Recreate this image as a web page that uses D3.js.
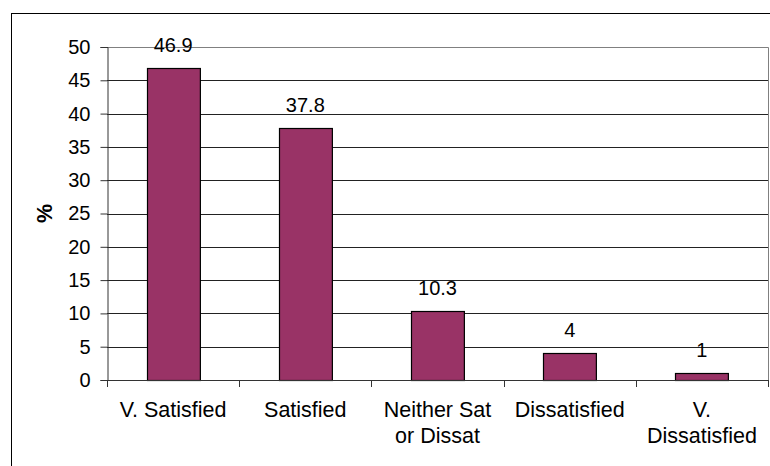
<!DOCTYPE html>
<html>
<head>
<meta charset="utf-8">
<script src="https://cdn.jsdelivr.net/npm/d3@7"></script>
<style>
  html, body { margin: 0; padding: 0; background: #fff; }
  svg { display: block; }
  text { font-family: "Liberation Sans", Arial, sans-serif; fill: #000; }
</style>
</head>
<body>
<svg id="chart" width="770" height="466"></svg>
<script>
// Satisfaction survey results (%)
const categories = ["V. Satisfied", "Satisfied", "Neither Sat or Dissat", "Dissatisfied", "V. Dissatisfied"];
const values = [46.9, 37.8, 10.3, 4, 1];
const yTicks = [0, 5, 10, 15, 20, 25, 30, 35, 40, 45, 50];
const yLabel = "%";

const svg = d3.select("#chart");
const W = 770, H = 466;
const plot = { left: 107, top: 47, right: 768, bottom: 380 };
const numSize = 20;
const catSize = 21.5;

// Outer chart frame (runs off the right and bottom edges)
svg.append("rect")
  .attr("x", 11.5).attr("y", 13.5)
  .attr("width", W + 10).attr("height", H + 10)
  .attr("fill", "#fff").attr("stroke", "#000").attr("stroke-width", 1);

const x = d3.scaleBand()
  .domain(categories)
  .range([plot.left, plot.right])
  .paddingInner(0.6).paddingOuter(0.3);

const xOuter = d3.scaleBand()
  .domain(categories)
  .range([plot.left, plot.right]);

const y = d3.scaleLinear().domain([0, 50]).range([plot.bottom, plot.top]);

// Horizontal gridlines
svg.append("g")
  .selectAll("line")
  .data(yTicks.filter(t => t > 0 && t < 50))
  .join("line")
  .attr("x1", plot.left).attr("x2", plot.right)
  .attr("y1", d => Math.round(y(d)) + 0.5).attr("y2", d => Math.round(y(d)) + 0.5)
  .attr("stroke", "#222").attr("stroke-width", 1);

// Plot area border (top and right)
svg.append("path")
  .attr("d", `M${plot.left},${plot.top + 0.5}H${plot.right + 0.5}V${plot.bottom}`)
  .attr("fill", "none").attr("stroke", "#808080").attr("stroke-width", 1);

// Bars
svg.append("g")
  .selectAll("rect")
  .data(values)
  .join("rect")
  .attr("x", (d, i) => Math.round(x(categories[i])) + 0.5)
  .attr("y", d => Math.round(y(d)) + 0.5)
  .attr("width", x.bandwidth())
  .attr("height", d => y(0) - Math.round(y(d)))
  .attr("fill", "#993366")
  .attr("stroke", "#000").attr("stroke-width", 1.2);

// Value labels
svg.append("g")
  .selectAll("text")
  .data(values)
  .join("text")
  .attr("x", (d, i) => x(categories[i]) + x.bandwidth() / 2)
  .attr("y", d => y(d) - 16)
  .attr("text-anchor", "middle")
  .attr("font-size", numSize)
  .text(d => d);

// Y axis
const yAxis = d3.axisLeft(y).tickValues(yTicks).tickSize(7).tickPadding(10);
const gy = svg.append("g")
  .attr("transform", `translate(${plot.left + 0.5},0)`)
  .call(yAxis);
gy.select(".domain").attr("stroke", "#333");
gy.selectAll(".tick line").attr("stroke", "#333");
gy.selectAll(".tick text")
  .attr("font-size", numSize)
  .attr("font-family", "'Liberation Sans', Arial, sans-serif")
  .attr("fill", "#000");

// X axis with ticks at category boundaries
const gx = svg.append("g");
gx.append("line")
  .attr("x1", plot.left).attr("x2", plot.right)
  .attr("y1", plot.bottom + 0.5).attr("y2", plot.bottom + 0.5)
  .attr("stroke", "#333");
const bounds = categories.map(c => xOuter(c)).concat([plot.right]);
gx.selectAll("line.tk")
  .data(bounds)
  .join("line")
  .attr("class", "tk")
  .attr("x1", d => Math.round(d) + 0.5).attr("x2", d => Math.round(d) + 0.5)
  .attr("y1", plot.bottom).attr("y2", plot.bottom + 7)
  .attr("stroke", "#333");

// Category labels, wrapped to fit the band
const maxWidth = 120;
const labels = gx.selectAll("text.cat")
  .data(categories)
  .join("text")
  .attr("class", "cat")
  .attr("text-anchor", "middle")
  .attr("font-size", catSize)
  .attr("x", d => xOuter(d) + xOuter.bandwidth() / 2)
  .attr("y", 417);

labels.each(function (d) {
  const t = d3.select(this);
  const words = d.split(" ");
  const lines = [];
  let cur = [];
  const probe = t.append("tspan");
  words.forEach(w => {
    const test = cur.concat([w]).join(" ");
    probe.text(test);
    if (probe.node().getComputedTextLength() > maxWidth && cur.length) {
      lines.push(cur.join(" "));
      cur = [w];
    } else {
      cur.push(w);
    }
  });
  lines.push(cur.join(" "));
  probe.remove();
  const cx = t.attr("x");
  lines.forEach((ln, i) => {
    t.append("tspan").attr("x", cx).attr("dy", i === 0 ? 0 : 26).text(ln);
  });
});

// Y axis title
svg.append("text")
  .attr("transform", `translate(52,${(plot.top + plot.bottom) / 2}) rotate(-90)`)
  .attr("text-anchor", "middle")
  .attr("font-size", catSize)
  .attr("font-weight", "bold")
  .text(yLabel);
</script>
</body>
</html>
